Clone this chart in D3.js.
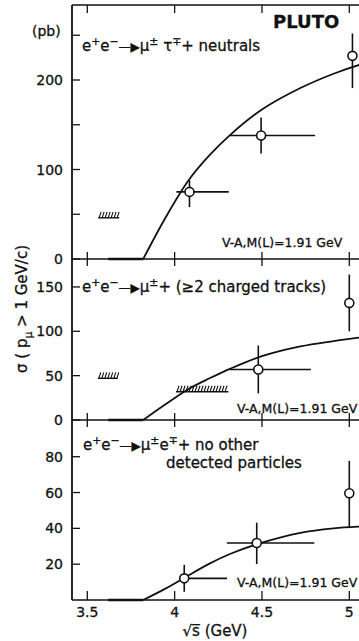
<!DOCTYPE html>
<html>
<head>
<meta charset="utf-8">
<script src="https://cdn.jsdelivr.net/npm/d3@7"></script>
<style>
  body { margin: 0; background: #fff; }
  svg { display: block; font-family: "DejaVu Sans", sans-serif; }
  text { stroke: #111; stroke-width: 0.3px; }
</style>
</head>
<body>
<svg id="chart" width="359" height="641"></svg>
<script>
// energy axis
const xTicks = [3.5, 4, 4.5, 5];
const xTickLabels = ["3.5", "4", "4.5", "5"];

// panel 1: mu tau + neutrals
const tauE = [4.085, 4.495, 5.018];
const tauSigma = [75, 138, 227];
const tauLo = [58, 118, 191];
const tauHi = [88, 158, 252];
const tauEmin = [4.01, 4.317, null];
const tauEmax = [4.31, 4.804, null];
const tauTicks = [0, 100, 200];
const tauMinor = [50, 150, 250];

// panel 2: mu + >=2 charged tracks
const chgE = [4.479, 5.0];
const chgSigma = [57, 132];
const chgLo = [30, 100];
const chgHi = [84, 164];
const chgEmin = [4.317, null];
const chgEmax = [4.78, null];
const chgTicks = [0, 50, 100, 150];

// panel 3: mu e + nothing else
const emuE = [4.055, 4.47, 5.0];
const emuSigma = [12.1, 31.8, 59.6];
const emuLo = [4.6, 20.1, 40.4];
const emuHi = [19.6, 43.2, 77.7];
const emuEmin = [4.03, 4.299, null];
const emuEmax = [4.30, 4.80, null];
const emuTicks = [20, 40, 60, 80];

// V-A prediction, M(L)=1.91 GeV; zero below threshold
const fitStart = 3.62;
const fitE = [3.82, 3.95, 4.08, 4.2, 4.32, 4.5, 4.72, 4.91, 5.06, 5.2];
const tauFit = [0, 47, 88, 116, 139, 167, 191, 207, 217, 224];
const chgFit = [0, 18, 35, 47, 58, 72, 83, 89, 93, 95];
const emuFit = [0, 6.5, 13.8, 20.3, 25.8, 32, 37.5, 40, 41, 41.5];

// hatched limits [Emin, Emax, sigma]
const tauLimits = [[3.562, 3.683, 46]];
const chgLimits = [[3.56, 3.674, 47], [4.008, 4.308, 31.8]];

const svg = d3.select("#chart");
const left = 72, right = 370;

const x = d3.scaleLinear().domain([3.5, 5]).range([87.3, 349.3]);

const panels = [
  { top: 5, bottom: 259, ymax: 283.8, E: tauE, s: tauSigma, lo: tauLo, hi: tauHi, emin: tauEmin, emax: tauEmax,
    ticks: tauTicks, minor: tauMinor, labelZero: true, fit: tauFit, limits: tauLimits },
  { top: 259, bottom: 420, ymax: 181.5, E: chgE, s: chgSigma, lo: chgLo, hi: chgHi, emin: chgEmin, emax: chgEmax,
    ticks: chgTicks, minor: [], labelZero: true, fit: chgFit, limits: chgLimits },
  { top: 420, bottom: 600, ymax: 100.5, E: emuE, s: emuSigma, lo: emuLo, hi: emuHi, emin: emuEmin, emax: emuEmax,
    ticks: emuTicks, minor: [], labelZero: false, fit: emuFit, limits: [] }
];

const ink = "#111";

panels.forEach((p, k) => {
  const y = d3.scaleLinear().domain([0, p.ymax]).range([p.bottom, p.top]);
  const g = svg.append("g");

  // horizontal boundary at sigma = 0
  g.append("line")
    .attr("x1", left).attr("x2", right)
    .attr("y1", p.bottom).attr("y2", p.bottom)
    .attr("stroke", ink).attr("stroke-width", 1.6);

  // energy ticks on the boundary
  g.selectAll("line.xt").data(xTicks).enter().append("line")
    .attr("x1", d => x(d)).attr("x2", d => x(d))
    .attr("y1", k < 2 ? p.bottom - 7 : p.bottom - 9)
    .attr("y2", k < 2 ? p.bottom + 7 : p.bottom)
    .attr("stroke", ink).attr("stroke-width", 1.3);

  // y ticks (inward) and labels
  g.selectAll("line.yt").data(p.ticks.concat(p.minor)).enter().append("line")
    .attr("x1", left).attr("x2", left + 8)
    .attr("y1", d => y(d)).attr("y2", d => y(d))
    .attr("stroke", ink).attr("stroke-width", 1.3);
  g.selectAll("text.yl").data(p.ticks.filter(d => d !== 0 || p.labelZero)).enter().append("text")
    .attr("x", 63).attr("y", d => y(d)).attr("dy", "0.36em")
    .attr("text-anchor", "end").attr("font-size", 14).attr("fill", ink)
    .text(d => d);

  // prediction curve: flat below threshold, then smooth rise
  const line = d3.line().x(d => x(d[0])).y(d => y(d[1])).curve(d3.curveCatmullRom.alpha(0.5));
  g.append("line")
    .attr("x1", x(fitStart)).attr("x2", x(fitE[0]))
    .attr("y1", y(0)).attr("y2", y(0))
    .attr("stroke", ink).attr("stroke-width", 2.4);
  g.append("path")
    .datum(fitE.map((e, i) => [e, p.fit[i]]))
    .attr("d", line)
    .attr("fill", "none").attr("stroke", ink).attr("stroke-width", 1.8);

  // hatched limits
  p.limits.forEach(l => {
    const x0 = x(l[0]), x1 = x(l[1]), yy = y(l[2]);
    g.append("line").attr("x1", x0).attr("x2", x1).attr("y1", yy).attr("y2", yy)
      .attr("stroke", ink).attr("stroke-width", 1.4);
    const n = Math.round((x1 - x0) / 3);
    g.selectAll(null).data(d3.range(n)).enter().append("line")
      .attr("x1", i => x0 + 1 + i * 3).attr("x2", i => x0 + 3 + i * 3)
      .attr("y1", yy).attr("y2", yy - 6)
      .attr("stroke", ink).attr("stroke-width", 1.1);
  });

  // measured points
  const pts = p.E.map((e, i) => ({ e: e, s: p.s[i], lo: p.lo[i], hi: p.hi[i], emin: p.emin[i], emax: p.emax[i] }));
  const pg = g.selectAll("g.pt").data(pts).enter().append("g").attr("class", "pt");
  pg.append("line")
    .attr("x1", d => x(d.e)).attr("x2", d => x(d.e))
    .attr("y1", d => y(d.lo)).attr("y2", d => y(d.hi))
    .attr("stroke", ink).attr("stroke-width", 1.6);
  pg.filter(d => d.emin !== null).append("line")
    .attr("x1", d => x(d.emin)).attr("x2", d => x(d.emax))
    .attr("y1", d => y(d.s)).attr("y2", d => y(d.s))
    .attr("stroke", ink).attr("stroke-width", 1.6);
  pg.append("circle")
    .attr("cx", d => x(d.e)).attr("cy", d => y(d.s)).attr("r", 4.5)
    .attr("fill", "#fff").attr("stroke", ink).attr("stroke-width", 1.6);
});

// frame: left axis and top border
svg.append("line").attr("x1", left).attr("x2", left).attr("y1", 5).attr("y2", 600)
  .attr("stroke", ink).attr("stroke-width", 1.8);
svg.append("line").attr("x1", left).attr("x2", right).attr("y1", 5).attr("y2", 5)
  .attr("stroke", ink).attr("stroke-width", 1.6);
svg.selectAll("line.topt").data(xTicks).enter().append("line")
  .attr("x1", d => x(d)).attr("x2", d => x(d)).attr("y1", 5).attr("y2", 13)
  .attr("stroke", ink).attr("stroke-width", 1.3);

// x tick labels and title
svg.selectAll("text.xl").data(xTicks).enter().append("text")
  .attr("x", d => x(d)).attr("y", 617)
  .attr("text-anchor", "middle").attr("font-size", 14).attr("fill", ink)
  .text((d, i) => xTickLabels[i]);

function rich(xp, yp, parts, size, anchor) {
  const t = svg.append("text").attr("x", xp).attr("y", yp)
    .attr("font-size", size).attr("fill", ink).attr("text-anchor", anchor || "start");
  let lift = 0;
  parts.forEach(pt => {
    const want = pt[1] === "sup" ? -0.4 * size : pt[1] === "sub" ? 0.3 * size : 0;
    const ts = t.append("tspan").attr("dy", want - lift).text(pt[0]);
    if (pt[1]) ts.attr("font-size", size * 0.72);
    if (pt[2]) ts.attr("font-size", pt[2]);
    lift = want;
  });
  return t;
}

svg.append("text").attr("x", 215).attr("y", 636).attr("text-anchor", "middle")
  .attr("font-size", 15).attr("fill", ink).text("\u221As\u0305 (GeV)");

// y title (rotated)
rich(0, 0, [["\u03C3 ( p", null], ["\u03BC", "sub"], [" > 1 GeV/c)", null]], 15, "middle")
  .attr("transform", "translate(27,309) rotate(-90)");

svg.append("text").attr("x", 32).attr("y", 36).attr("font-size", 14).attr("fill", ink).text("(pb)");
svg.append("text").attr("x", 273).attr("y", 28).attr("font-size", 18).attr("font-weight", "bold")
  .attr("fill", ink).text("PLUTO");

const arrow = ["\u2014\u25B6", null, 12];
rich(82, 51, [["e", null], ["+", "sup"], ["e", null], ["\u2212", "sup"], arrow, ["\u03BC", null], ["\u00B1", "sup"],
  [" \u03C4", null], ["\u2213", "sup"], ["+ neutrals", null]], 15);
rich(82, 292, [["e", null], ["+", "sup"], ["e", null], ["\u2212", "sup"], arrow, ["\u03BC", null], ["\u00B1", "sup"],
  ["+ (\u22652 charged tracks)", null]], 15);
rich(83, 450, [["e", null], ["+", "sup"], ["e", null], ["\u2212", "sup"], arrow, ["\u03BC", null], ["\u00B1", "sup"],
  ["e", null], ["\u2213", "sup"], ["+ no other", null]], 15);
svg.append("text").attr("x", 166).attr("y", 468).attr("font-size", 15).attr("fill", ink).text("detected particles");

[[222, 247], [237, 413], [237, 587]].forEach(c => {
  svg.append("text").attr("x", c[0]).attr("y", c[1]).attr("font-size", 12.5).attr("fill", ink)
    .text("V-A,M(L)=1.91 GeV");
});
</script>
</body>
</html>
